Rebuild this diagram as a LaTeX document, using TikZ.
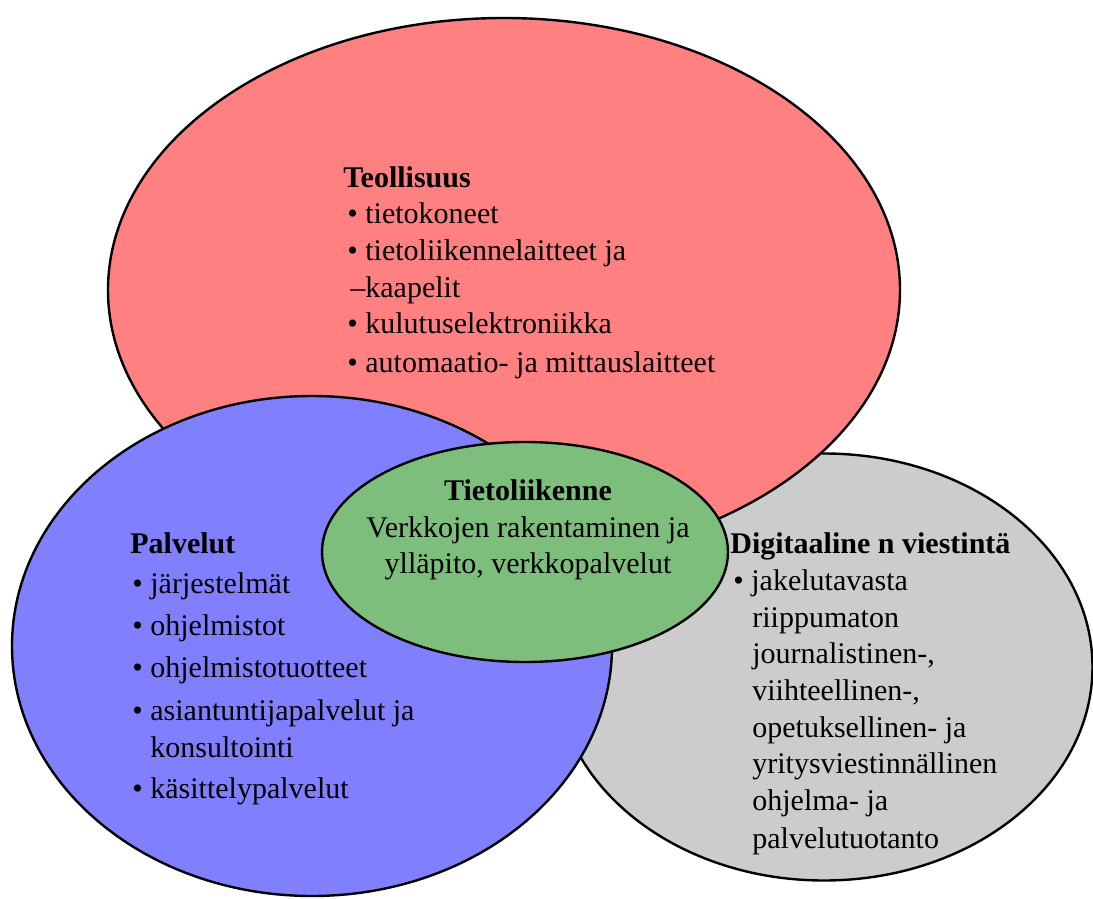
\documentclass[tikz,border=0pt]{standalone}
\usepackage{fontspec}
\setmainfont{Liberation Serif}
\usetikzlibrary{shapes.geometric}
\definecolor{redfill}{RGB}{255,128,128}
\definecolor{bluefill}{RGB}{128,128,255}
\definecolor{greenfill}{RGB}{126,190,124}
\definecolor{greyfill}{RGB}{204,204,204}
\begin{document}
\begin{tikzpicture}[x=0.5pt,y=-0.5pt,
  blob/.style={ellipse, draw=black, line width=1.2pt, inner sep=0pt, outer sep=0pt},
  txt/.style={anchor=base west, inner sep=0pt, font=\fontsize{15}{18.5}\selectfont},
  ctxt/.style={anchor=base, inner sep=0pt, font=\fontsize{15}{18.5}\selectfont}]
\useasboundingbox (0,0) rectangle (1093,899);
% ellipses
\node[blob, fill=greyfill, minimum width=268.5pt, minimum height=213.5pt] (grey) at (824,667) {};
\node[blob, fill=redfill, minimum width=396pt, minimum height=272pt] (red) at (504,290) {};
\node[blob, fill=bluefill, minimum width=300pt, minimum height=250pt] (blue) at (312,646) {};
\node[blob, fill=greenfill, minimum width=203pt, minimum height=110pt] (green) at (525,552) {};
% Teollisuus
\node[txt] (t0) at (343,188) {\textbf{Teollisuus}};
\node[txt] (t1) at (347,223) {• tietokoneet};
\node[txt] (t2) at (347,260) {• tietoliikennelaitteet ja};
\node[txt] (t3) at (350,297) {–kaapelit};
\node[txt] (t4) at (347,333) {• kulutuselektroniikka};
\node[txt] (t5) at (347,372) {• automaatio- ja mittauslaitteet};
% Palvelut
\node[txt] (p0) at (130,553) {\textbf{Palvelut}};
\node[txt] (p1) at (132,593) {• järjestelmät};
\node[txt] (p2) at (132,635) {• ohjelmistot};
\node[txt] (p3) at (132,677) {• ohjelmistotuotteet};
\node[txt] (p4) at (132,720) {• asiantuntijapalvelut ja};
\node[txt] (p5) at (150,757) {konsultointi};
\node[txt] (p6) at (132,798) {• käsittelypalvelut};
% Tietoliikenne
\node[ctxt] (g0) at (528,500) {\textbf{Tietoliikenne}};
\node[ctxt] (g1) at (528,537) {Verkkojen rakentaminen ja};
\node[ctxt] (g2) at (528,573) {ylläpito, verkkopalvelut};
% Digitaalinen viestinta
\node[txt] (d0) at (730,553) {\textbf{Digitaaline n viestintä}};
\node[txt] (d1) at (733,590) {• jakelutavasta};
\node[txt] (d2) at (752,627) {riippumaton};
\node[txt] (d3) at (752,663) {journalistinen-,};
\node[txt] (d4) at (752,700) {viihteellinen-,};
\node[txt] (d5) at (752,737) {opetuksellinen- ja};
\node[txt] (d6) at (752,773) {yritysviestinnällinen};
\node[txt] (d7) at (752,810) {ohjelma- ja};
\node[txt] (d8) at (752,848) {palvelutuotanto};
\end{tikzpicture}
\end{document}
